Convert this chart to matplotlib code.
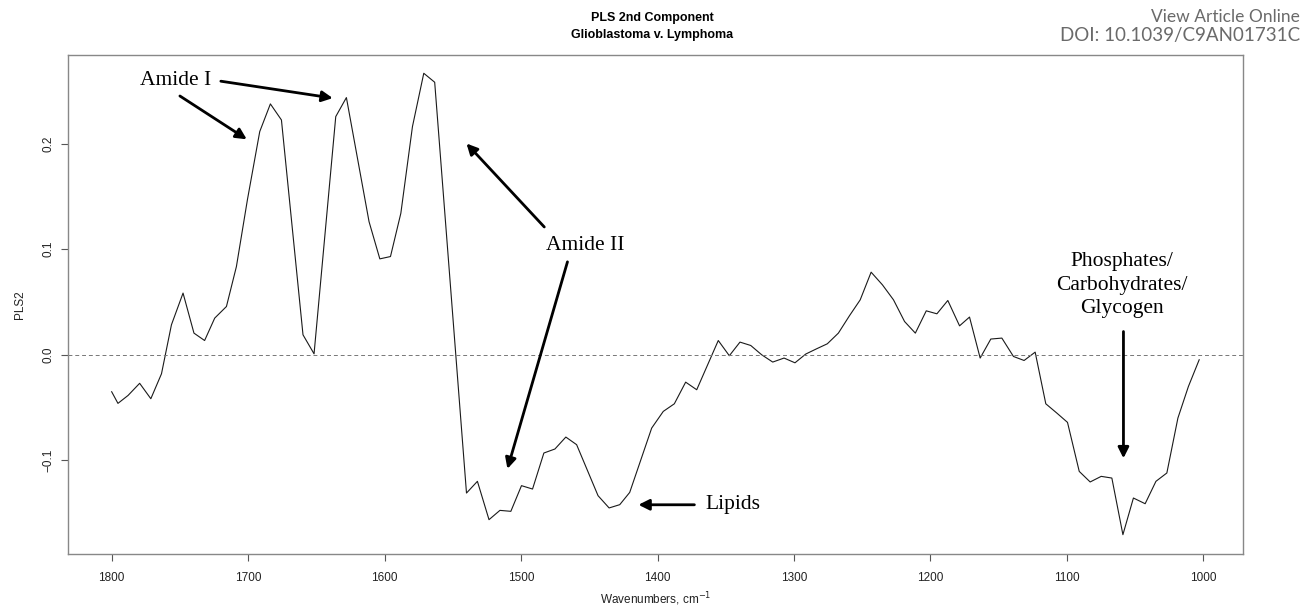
import numpy as np
import matplotlib
matplotlib.use("Agg")
import matplotlib.pyplot as plt

# wavenumbers (cm^-1) and PLS2 loadings
wavenumber = [1800, 1795.4, 1788, 1779.5, 1771.3, 1763.5, 1756.2, 1747.7, 1739.7, 1731.9,
              1724.5, 1715.9, 1708.6, 1700.5, 1691.5, 1683.7, 1675.6, 1659.8, 1651.7, 1635.8,
              1628, 1611.4, 1603.5, 1595.7, 1588.1, 1579.6, 1571.3, 1563.3, 1540, 1532,
              1523.5, 1515.5, 1507.5, 1499.7, 1491.6, 1483.3, 1475.2, 1467.2, 1459.3, 1443.6,
              1435.5, 1427.7, 1420.4, 1404.3, 1395.8, 1387.7, 1379.4, 1371.3, 1355.5, 1347.4,
              1339.6, 1331.7, 1323.7, 1315.6, 1307.3, 1299.3, 1291.4, 1283.4, 1275.6, 1267.5,
              1259.4, 1251.5, 1243.5, 1235.2, 1227.1, 1219, 1211.1, 1203.1, 1195.3, 1187.3,
              1178.7, 1171.4, 1163.6, 1155.8, 1147.7, 1139.2, 1131.4, 1123.3, 1115.5, 1107.4,
              1099.6, 1091, 1083, 1074.9, 1067.1, 1059, 1051.3, 1042.7, 1034.8, 1026.8,
              1018.7, 1011, 1003.1]
pls2 = [-0.035, -0.046, -0.0385, -0.027, -0.0416, -0.018, 0.0284, 0.0584, 0.0205, 0.0135,
        0.0347, 0.0457, 0.0835, 0.147, 0.2113, 0.2375, 0.2223, 0.0189, 0.0009, 0.2255,
        0.2435, 0.126, 0.0908, 0.093, 0.134, 0.216, 0.2665, 0.258, -0.1309, -0.1198,
        -0.1561, -0.1473, -0.1482, -0.1239, -0.1271, -0.093, -0.0892, -0.0779, -0.0851, -0.1334,
        -0.145, -0.1419, -0.1303, -0.0694, -0.0536, -0.0464, -0.0259, -0.0331, 0.0135, -0.0009,
        0.012, 0.0088, 0.0, -0.0069, -0.0031, -0.0076, 0.0007, 0.0057, 0.0104, 0.0205,
        0.0369, 0.052, 0.0782, 0.0662, 0.052, 0.0315, 0.0205, 0.0416, 0.0388, 0.0514,
        0.0274, 0.0357, -0.0031, 0.0149, 0.0158, -0.0016, -0.0054, 0.0025, -0.0464, -0.0552,
        -0.064, -0.1104, -0.1204, -0.1151, -0.1167, -0.1703, -0.1356, -0.141, -0.1198, -0.1119,
        -0.0599, -0.03, -0.0047]

xticks = [1800, 1700, 1600, 1500, 1400, 1300, 1200, 1100, 1000]
yticks = [-0.1, 0.0, 0.1, 0.2]
ytick_labels = ["\u22120.1", "0.0", "0.1", "0.2"]

# annotations: label, text position, list of (tail, tip) arrows
notes = [
    ("Amide I", (1753, 0.260), [((1750, 0.245), (1701, 0.204)),
                                ((1720, 0.259), (1638, 0.243))]),
    ("Amide II", (1453, 0.103), [((1483, 0.121), (1540, 0.200)),
                                 ((1466, 0.088), (1510, -0.108))]),
    ("Lipids", (1345, -0.142), [((1373, -0.142), (1414, -0.142))]),
    ("Phosphates/\nCarbohydrates/\nGlycogen", (1060, 0.066),
     [((1058.6, 0.022), (1058.6, -0.098))]),
]

sans = "Liberation Sans"
serif = "Liberation Serif"

fig = plt.figure(figsize=(13.06, 6.15), dpi=100)
ax = fig.add_axes([68/1306, 1-554/615, (1243-68)/1306, (554-55)/615])

ax.plot(wavenumber, pls2, color="#1a1a1a", lw=0.8)
ax.axhline(0, color="#777777", lw=0.7, ls=(0, (4, 3)))

ax.set_xlim(1832, 971)
ax.set_ylim(-0.1886, 0.2838)

ax.set_xticks(xticks)
ax.set_xticklabels([str(t) for t in xticks], fontname=sans, fontsize=8.5, color="#222222")
ax.set_yticks(yticks)
ax.set_yticklabels(ytick_labels, fontname=sans, fontsize=8.5, color="#222222",
                   rotation=90, va="center")
ax.tick_params(axis="both", direction="out", length=5, width=0.8, color="#555555")
ax.tick_params(axis="x", pad=8)
ax.tick_params(axis="y", pad=5)
for s in ax.spines.values():
    s.set_color("#888888")
    s.set_linewidth(1.0)

ax.set_xlabel("Wavenumbers, cm$^{-1}$", fontname=sans, fontsize=8.5, color="#222222")
ax.xaxis.set_label_coords(0.5, -0.073)
ax.set_ylabel("PLS2", fontname=sans, fontsize=8.5, color="#222222")
ax.yaxis.set_label_coords(-0.036, 0.5)

for label, pos, arrows in notes:
    ax.text(pos[0], pos[1], label, fontname=serif, fontsize=15.5, ha="center", va="center",
            linespacing=1.35)
    for tail, tip in arrows:
        ax.annotate("", xy=tip, xytext=tail,
                    arrowprops=dict(arrowstyle="-|>", lw=2, color="black",
                                    mutation_scale=16, shrinkA=0, shrinkB=0))

fig.text(652/1306, 1-18/615, "PLS 2nd Component", fontname=sans, fontweight="bold",
         fontsize=9, ha="center", va="center")
fig.text(652/1306, 1-35/615, "Glioblastoma v. Lymphoma", fontname=sans, fontweight="bold",
         fontsize=9, ha="center", va="center")

fig.text(1300/1306, 1-17/615, "View Article Online", family=["Lato", "DejaVu Sans"],
         fontsize=12.5, color="#6a6a6a", ha="right", va="center")
fig.text(1300/1306, 1-35/615, "DOI: 10.1039/C9AN01731C", family=["Lato", "DejaVu Sans"],
         fontsize=13.5, color="#6a6a6a", ha="right", va="center")

fig.savefig("out.png", dpi=100)
